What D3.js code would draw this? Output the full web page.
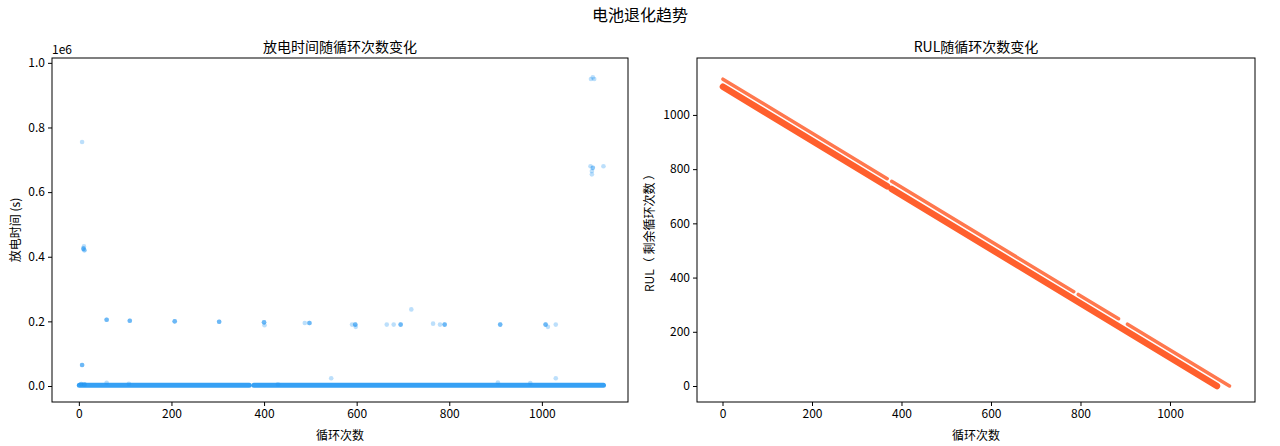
<!DOCTYPE html>
<html><head><meta charset="utf-8">
<script src="https://cdn.jsdelivr.net/npm/d3@7"></script>
<style>
body{margin:0;background:#fff;font-family:"Noto Sans CJK SC","DejaVu Sans",sans-serif;}
text{fill:#000;}
.axis text{font-size:12px;font-family:"Noto Sans CJK SC","DejaVu Sans",sans-serif;}
</style></head><body>
<svg id="c" width="1280" height="446"></svg>
<script>
// baseline band of discharge time (cycle start, cycle end, value)
const baseSegments = [[1, 368, 2500], [378, 1133, 2500]];
// outlier discharge times: cycle, value (s), overlap count
const outliers = [
  [7, 755000, 1], [10, 425000, 3], [12, 420000, 2], [11, 432000, 1], [7, 65000, 3],
  [5, 6000, 2], [12, 5000, 2],
  [1106, 950000, 1], [1110, 955000, 1], [1113, 950000, 1],
  [1105, 680000, 1], [1110, 675000, 2], [1108, 665000, 1], [1108, 655000, 1], [1133, 680000, 1],
  [60, 205000, 3], [110, 202000, 3], [207, 200000, 3], [303, 199000, 3],
  [400, 197000, 3], [401, 188000, 1], [488, 195000, 1], [498, 195000, 3],
  [590, 190000, 1], [597, 190000, 3], [598, 183000, 1], [665, 190000, 1], [680, 190000, 1],
  [695, 190000, 3], [718, 237000, 1], [765, 193000, 1], [780, 190000, 1], [790, 190000, 3],
  [910, 190000, 3], [1008, 190000, 3], [1013, 183000, 1], [1030, 190000, 1],
  [545, 24000, 1], [1030, 24000, 1], [60, 10000, 1], [905, 11000, 1], [975, 9000, 1], [108, 7000, 1], [430, 5000, 1]
];
// RUL series per battery: max cycle, drawn segments of cycles
const rulBatteries = [
  {maxCycle: 1133, segments: [[1, 368], [378, 785], [795, 885], [905, 1133]], width: 3.5, opacity: 0.8},
  {maxCycle: 1105, segments: [[1, 368], [378, 1105]], width: 6.5, opacity: 0.95}
];
const leftTicksY = [0, 200000, 400000, 600000, 800000, 1000000];
const ticksX = [0, 200, 400, 600, 800, 1000];
const rulTicksY = [0, 200, 400, 600, 800, 1000];

const svg = d3.select("#c");
const blue = "#2196F3", orange = "#FF5722";

svg.append("text").attr("x", 640).attr("y", 21).attr("text-anchor", "middle")
  .style("font-size", "16px").text("电池退化趋势");

function panel(x0, x1, y0, y1, xDom, yDom, yTicks, yFmt, title, ylab, labOff) {
  const g = svg.append("g");
  const x = d3.scaleLinear().domain(xDom).range([x0, x1]);
  const y = d3.scaleLinear().domain(yDom).range([y1, y0]);
  g.append("g").attr("class", "axis").attr("transform", `translate(0,${y1})`)
    .call(d3.axisBottom(x).tickValues(ticksX).tickFormat(d3.format("d")).tickSizeOuter(0).tickSize(4));
  g.append("g").attr("class", "axis").attr("transform", `translate(${x0},0)`)
    .call(d3.axisLeft(y).tickValues(yTicks).tickFormat(yFmt).tickSizeOuter(0).tickSize(4));
  g.selectAll(".axis path").remove();
  g.append("rect").attr("x", x0).attr("y", y0).attr("width", x1 - x0).attr("height", y1 - y0)
    .attr("fill", "none").attr("stroke", "#000").attr("stroke-width", 1);
  g.append("text").attr("x", (x0 + x1) / 2).attr("y", y0 - 6).attr("text-anchor", "middle")
    .style("font-size", "14px").text(title);
  g.append("text").attr("x", (x0 + x1) / 2).attr("y", y1 + 38).attr("text-anchor", "middle")
    .style("font-size", "12px").text("循环次数");
  g.append("text").attr("transform", `translate(${x0 - labOff},${(y0 + y1) / 2}) rotate(-90)`)
    .attr("text-anchor", "middle").style("font-size", "12px").text(ylab);
  return {g, x, y};
}

// left panel
const L = panel(52, 628, 58, 402, [-58, 1186], [-49500, 1015000], leftTicksY,
  d => (d / 1e6).toFixed(1), "放电时间随循环次数变化", "放电时间 (s)", 32);
L.g.append("text").attr("x", 52).attr("y", 54).style("font-size", "12px").text("1e6");
L.g.selectAll(".base").data(baseSegments).join("line")
  .attr("x1", d => L.x(d[0])).attr("x2", d => L.x(d[1]))
  .attr("y1", d => L.y(d[2])).attr("y2", d => L.y(d[2]))
  .attr("stroke", blue).attr("stroke-width", 5).attr("stroke-linecap", "round").attr("opacity", 0.9);
const pts = [];
outliers.forEach(o => { for (let i = 0; i < o[2]; i++) pts.push(o); });
L.g.selectAll(".pt").data(pts).join("circle")
  .attr("cx", d => L.x(d[0])).attr("cy", d => L.y(d[1])).attr("r", 2.3)
  .attr("fill", blue).attr("opacity", 0.3);

// right panel
const R = panel(697, 1255, 58, 402, [-57, 1190], [-59, 1210], rulTicksY,
  d3.format("d"), "RUL随循环次数变化", "RUL（ 剩余循环次数 ）", 43);
rulBatteries.forEach(b => {
  R.g.selectAll(null).data(b.segments).join("line")
    .attr("x1", d => R.x(d[0])).attr("x2", d => R.x(d[1]))
    .attr("y1", d => R.y(b.maxCycle - d[0])).attr("y2", d => R.y(b.maxCycle - d[1]))
    .attr("stroke", orange).attr("stroke-width", b.width).attr("stroke-linecap", "round")
    .attr("opacity", b.opacity);
});
</script></body></html>
